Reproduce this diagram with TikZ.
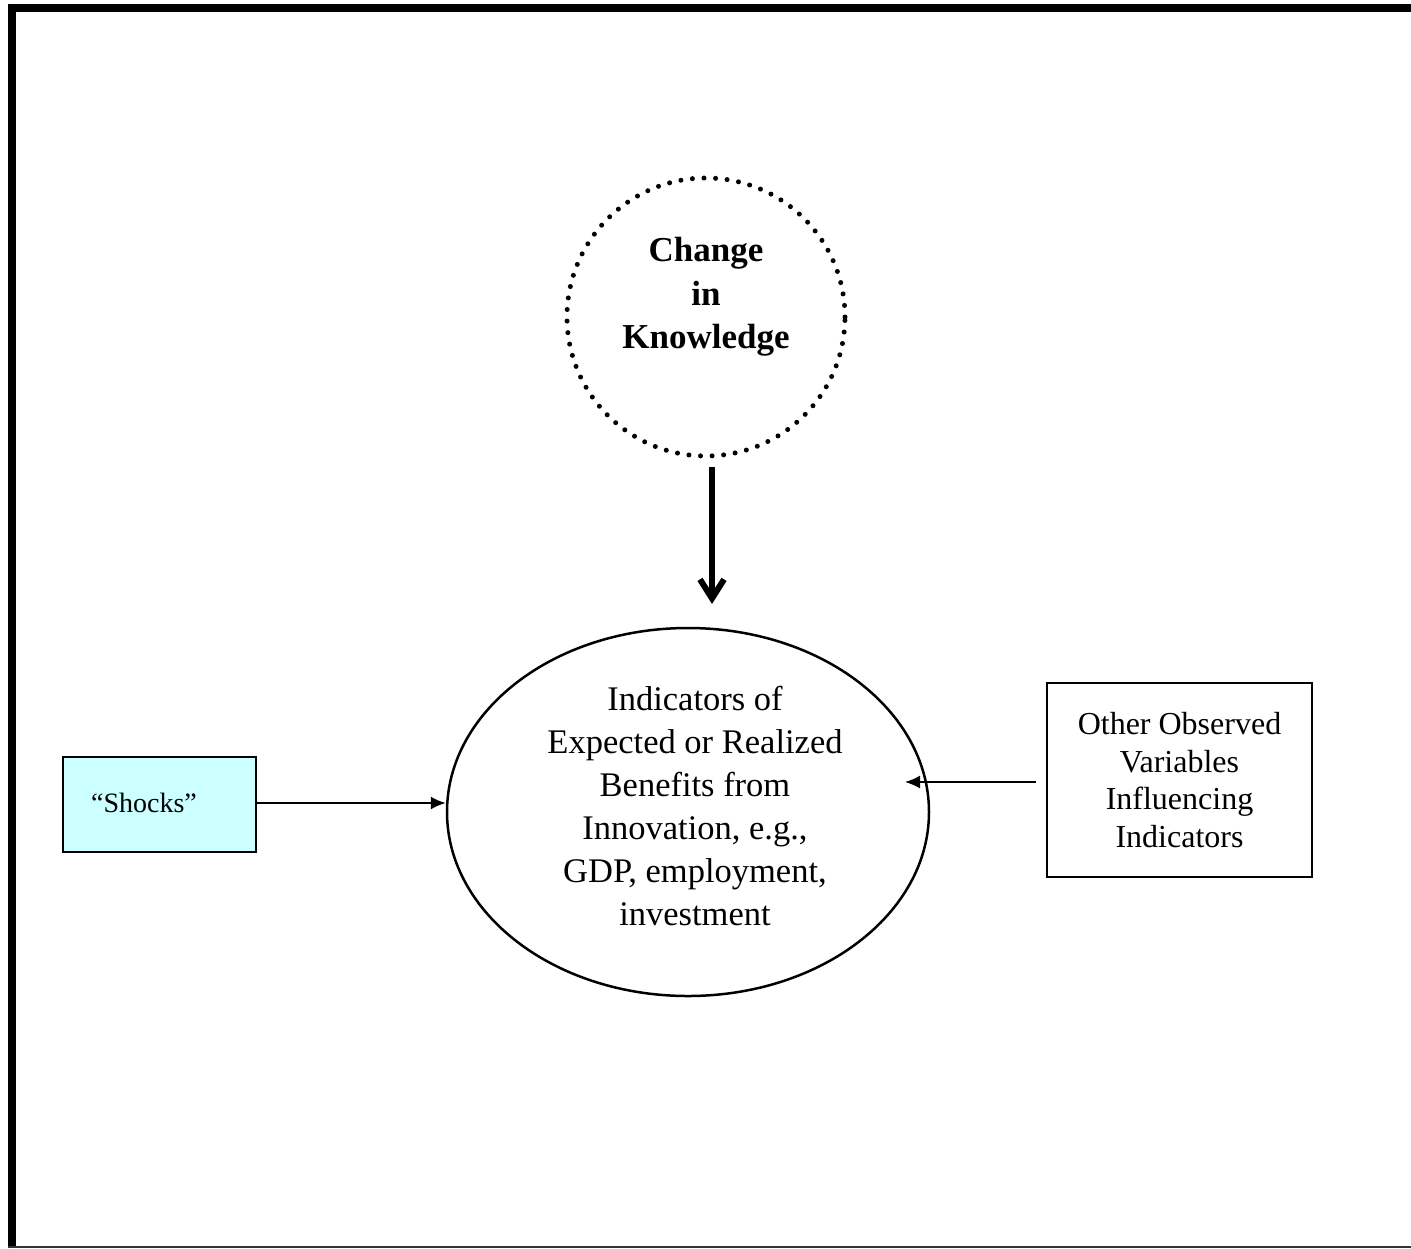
\documentclass[tikz,border=0pt]{standalone}
\usepackage{fontspec}
\setmainfont{Liberation Serif}
\usetikzlibrary{arrows.meta,shapes.geometric,calc}
\definecolor{shockfill}{HTML}{CCFFFF}
\tikzset{
  thinarrow/.style={line width=1.8pt,-{Latex[length=15pt,width=13pt]}},
  boxstyle/.style={draw,line width=2pt,inner sep=0pt},
}
\begin{document}
\begin{tikzpicture}[x=1pt,y=-1pt]
\useasboundingbox (0,0) rectangle (1411,1248);
% frame
\draw[line width=8pt] (12,1248) -- (12,8) -- (1411,8);
\draw[line width=2pt,black!80] (8,1247) -- (1411,1247);
% dotted circle
\node[circle,minimum size=278pt,inner sep=0pt,draw,line width=5pt,line cap=round,dash pattern=on 0pt off 11.6pt] (know) at (706,317) {};
\node[align=center,font=\bfseries\fontsize{35}{43.5}\selectfont] (ktext) at (706,297) {Change\\in\\Knowledge};
% ellipse
\node[ellipse,draw,line width=2.5pt,minimum width=482pt,minimum height=368pt,inner sep=0pt] (ind) at (688,812) {};
\node[align=center,font=\fontsize{34.5}{43}\selectfont] (itext) at (695,806) {Indicators of\\Expected or Realized\\Benefits from\\Innovation, e.g.,\\GDP, employment,\\investment};
% shocks box
\node[boxstyle,fill=shockfill,minimum width=193pt,minimum height=95pt] (shocks) at (159.5,804.5) {};
\node[font=\fontsize{28}{34}\selectfont] (stext) at (144,803) {“Shocks”};
% other box
\node[boxstyle,minimum width=265pt,minimum height=194pt,align=center,font=\fontsize{32}{37.5}\selectfont] (other) at (1179.5,780) {Other Observed\\Variables\\Influencing\\Indicators};
% arrows
\coordinate (kstart) at (712,467);
\coordinate (kend) at (712,604);
\draw[line width=6pt,-{Straight Barb[length=19pt,width=24pt,line width=6pt]}] (kstart) -- (kend);
\draw[thinarrow] (shocks.east |- 0,803) -- (ind.west |- 0,803);
\coordinate (ostart) at ($(other.west)+(-10,2)$);
\coordinate (otip) at (905,782);
\draw[thinarrow] (ostart) -- (otip);
\end{tikzpicture}
\end{document}
